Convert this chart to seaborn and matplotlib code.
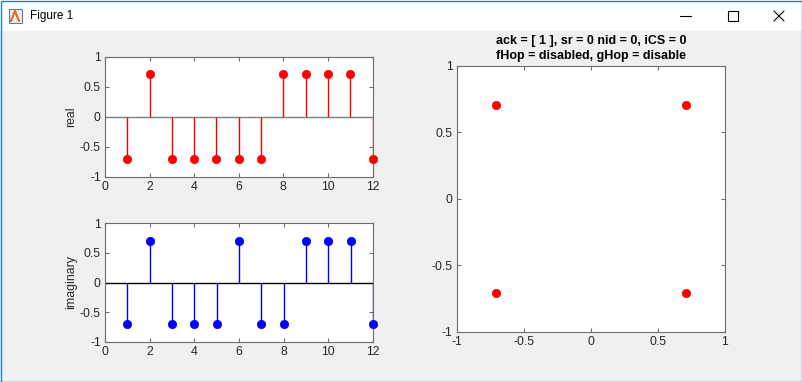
import numpy as np
import pandas as pd
import matplotlib
matplotlib.use('Agg')
import matplotlib.pyplot as plt
from matplotlib.lines import Line2D
from matplotlib.patches import Rectangle
import seaborn as sns

# data
n = [1, 2, 3, 4, 5, 6, 7, 8, 9, 10, 11, 12]
real_vals = [-0.707, 0.707, -0.707, -0.707, -0.707, -0.707, -0.707, 0.707, 0.707, 0.707, 0.707, -0.707]
imag_vals = [-0.707, 0.707, -0.707, -0.707, -0.707, 0.707, -0.707, -0.707, 0.707, 0.707, 0.707, -0.707]
const_i = [-0.707, 0.707, -0.707, 0.707]
const_q = [0.707, 0.707, -0.707, -0.707]
title_txt = 'ack = [ 1 ], sr = 0 nid = 0, iCS = 0\nfHop = disabled, gHop = disable'

sns.set_style('white')
plt.rcParams['font.family'] = ['Liberation Sans', 'DejaVu Sans']
plt.rcParams['font.size'] = 8

W, H = 802, 382
fig = plt.figure(figsize=(W / 100, H / 100), dpi=100, facecolor='#f0f0f0')


def px(x0, y0, x1, y1):
    return [x0 / W, 1 - y1 / H, (x1 - x0) / W, (y1 - y0) / H]


def matlab_axes(ax):
    ax.set_facecolor('white')
    for s in ax.spines.values():
        s.set_color('#6e6e6e')
        s.set_linewidth(0.8)
    ax.tick_params(direction='in', length=3, width=0.8, color='#6e6e6e',
                   labelcolor='#262626', labelsize=8.8, top=True, right=True,
                   bottom=True, left=True, pad=3)


# window chrome
fig.add_artist(Rectangle((0, 1 - 31 / H), 1, 31 / H, transform=fig.transFigure,
                         facecolor='white', edgecolor='none'))
fig.add_artist(Rectangle((0.5 / W, 0.5 / H), 1 - 1 / W, 1 - 1 / H, transform=fig.transFigure,
                         facecolor='none', edgecolor='#1883d7', lw=1))
fig.text(30 / W, 1 - 16 / H, 'Figure 1', fontsize=8.5, va='center', ha='left', color='black')
fig.add_artist(Rectangle((9 / W, 1 - 23 / H), 13 / W, 14 / H, transform=fig.transFigure,
                         facecolor='#e8eef5', edgecolor='#5a7fa8', lw=0.8))
fig.add_artist(Line2D([11 / W, 15 / W, 19 / W], [1 - 21 / H, 1 - 11 / H, 1 - 21 / H],
                      transform=fig.transFigure, color='#e2701c', lw=1.6))
fig.add_artist(Line2D([680 / W, 691 / W], [1 - 16 / H, 1 - 16 / H],
                      transform=fig.transFigure, color='black', lw=0.8))
fig.add_artist(Rectangle((728 / W, 1 - 21 / H), 10 / W, 10 / H, transform=fig.transFigure,
                         facecolor='none', edgecolor='black', lw=0.8))
fig.add_artist(Line2D([774 / W, 784 / W], [1 - 11 / H, 1 - 21 / H],
                      transform=fig.transFigure, color='black', lw=0.8))
fig.add_artist(Line2D([774 / W, 784 / W], [1 - 21 / H, 1 - 11 / H],
                      transform=fig.transFigure, color='black', lw=0.8))

# stem plots
ax1 = fig.add_axes(px(105, 56.5, 372.5, 176.7))
ax2 = fig.add_axes(px(105, 223.3, 373, 341.7))
ax3 = fig.add_axes(px(456.7, 65.7, 725, 332))

panels = [(ax1, real_vals, 'red', 'real', '#7f7f7f'),
          (ax2, imag_vals, 'blue', 'imaginary', 'black')]
for ax, vals, col, lab, base in panels:
    df = pd.DataFrame({'n': n, 'v': vals})
    ax.axhline(0, color=base, lw=1, zorder=1)
    ax.vlines(df['n'], 0, df['v'], color=col, lw=1, zorder=2)
    sns.scatterplot(data=df, x='n', y='v', ax=ax, color=col, s=36,
                    edgecolor=col, linewidth=0.5, zorder=3, clip_on=False)
    ax.set_xlim(0, 12)
    ax.set_ylim(-1, 1)
    ax.set_xticks([0, 2, 4, 6, 8, 10, 12])
    ax.set_yticks([-1, -0.5, 0, 0.5, 1])
    ax.set_yticklabels(['-1', '-0.5', '0', '0.5', '1'])
    ax.set_xlabel('')
    ax.set_ylabel(lab, fontsize=8.8, color='#262626', labelpad=2)
    matlab_axes(ax)

# constellation
dfc = pd.DataFrame({'i': const_i, 'q': const_q})
sns.scatterplot(data=dfc, x='i', y='q', ax=ax3, color='red', s=36,
                edgecolor='red', linewidth=0.5, zorder=3)
ax3.set_xlim(-1, 1)
ax3.set_ylim(-1, 1)
ax3.set_xticks([-1, -0.5, 0, 0.5, 1])
ax3.set_yticks([-1, -0.5, 0, 0.5, 1])
ax3.set_xticklabels(['-1', '-0.5', '0', '0.5', '1'])
ax3.set_yticklabels(['-1', '-0.5', '0', '0.5', '1'])
ax3.set_xlabel('')
ax3.set_ylabel('')
ax3.set_title(title_txt, fontsize=9, fontweight='bold', color='black',
              linespacing=1.3, pad=5)
matlab_axes(ax3)

fig.savefig('out.png', dpi=100, facecolor=fig.get_facecolor())
